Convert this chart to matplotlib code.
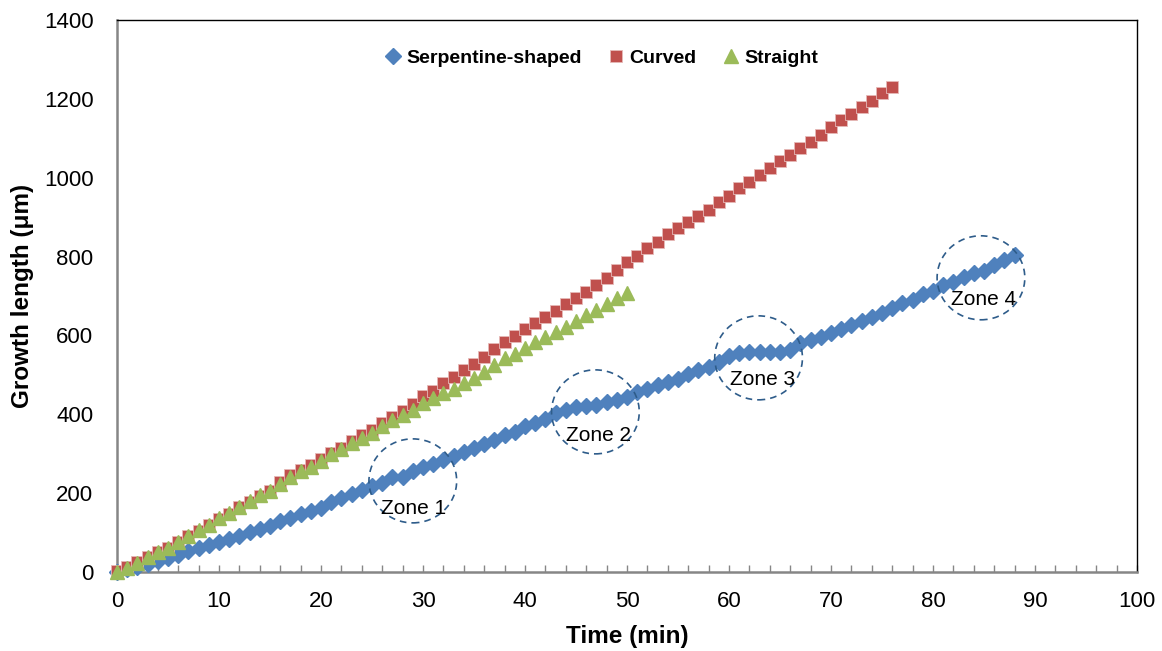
import matplotlib
matplotlib.use('Agg')
import matplotlib.pyplot as plt
from matplotlib.patches import Ellipse

plt.rcParams['font.family'] = ['Liberation Sans', 'DejaVu Sans']

# growth length (um) read every minute
serpentine = [0, 8, 13, 20, 29, 35, 43, 53, 60, 68,
              77, 84, 90, 101, 109, 117, 128, 136, 146, 155,
              162, 177, 187, 198, 207, 218, 226, 240, 242, 257,
              265, 274, 284, 294, 305, 314, 325, 335, 347, 356,
              369, 379, 388, 402, 411, 418, 420, 424, 431, 437,
              444, 456, 465, 473, 482, 489, 501, 512, 521, 532,
              547, 556, 558, 557, 557, 557, 563, 580, 588, 597,
              607, 617, 626, 637, 646, 658, 669, 683, 690, 704,
              713, 728, 736, 749, 759, 762, 779, 790, 804]
curved = [3, 12, 25, 38, 50, 61, 75, 90, 105, 120,
          135, 148, 164, 178, 193, 206, 228, 246, 259, 271,
          286, 301, 314, 331, 347, 360, 377, 394, 409, 426,
          445, 460, 479, 494, 512, 528, 546, 565, 582, 599,
          615, 631, 646, 663, 680, 694, 711, 728, 745, 766,
          785, 801, 821, 838, 857, 872, 887, 903, 918, 937,
          954, 973, 990, 1007, 1024, 1042, 1058, 1075, 1091, 1108,
          1128, 1146, 1161, 1178, 1195, 1214, 1231]
straight = [0, 11, 24, 37, 50, 62, 76, 91, 106, 120,
            136, 149, 165, 179, 194, 206, 224, 240, 257, 267,
            282, 299, 311, 326, 339, 353, 369, 385, 398, 411,
            428, 440, 453, 463, 479, 491, 508, 525, 542, 553,
            567, 582, 597, 609, 622, 637, 652, 664, 680, 694,
            708]

zone_names = ['Zone 1', 'Zone 2', 'Zone 3', 'Zone 4']
zone_t = [29.0, 46.9, 62.9, 84.7]
zone_len = [231, 406, 543, 746]
zone_label_t = [29.1, 47.2, 63.3, 85.0]
zone_label_len = [162, 345, 487, 692]


def draw_chart():
    fig = plt.figure(figsize=(11.62, 6.51), dpi=100)
    ax = fig.add_axes([0.1007, 0.1214, 0.8778, 0.848])

    ax.plot(range(len(serpentine)), serpentine, ls='none', marker='D', ms=8,
            color='#4F81BD', mec='#4F81BD', label='Serpentine-shaped', clip_on=False, zorder=3)
    ax.plot(range(len(curved)), curved, ls='none', marker='s', ms=8,
            color='#C0504D', mec='#E6B9B8', mew=0.6, label='Curved', clip_on=False, zorder=3)
    ax.plot(range(len(straight)), straight, ls='none', marker='^', ms=10,
            color='#9BBB59', mec='#9BBB59', label='Straight', clip_on=False, zorder=3)

    # dashed circles around the zones
    for name, t, v, lt, lv in zip(zone_names, zone_t, zone_len, zone_label_t, zone_label_len):
        ax.add_patch(Ellipse((t, v), width=8.6, height=213, fill=False,
                             ls=(0, (4, 3)), lw=1.2, ec='#2E5C8A', zorder=4))
        ax.text(lt, lv, name, ha='center', va='center', fontsize=15, zorder=5)

    ax.set_xlim(0, 100)
    ax.set_ylim(0, 1400)
    ax.set_xticks(range(0, 101, 10))
    ax.set_xticks(range(0, 101, 2), minor=True)
    ax.set_yticks(range(0, 1401, 200))
    ax.tick_params(axis='x', which='both', direction='in', length=5, width=1, color='#868686')
    ax.tick_params(axis='x', which='major', pad=14, labelsize=16)
    ax.tick_params(axis='y', length=0, pad=17, labelsize=16)

    for side in ['left', 'bottom']:
        ax.spines[side].set_color('#868686')
        ax.spines[side].set_linewidth(1.8)
    for side in ['top', 'right']:
        ax.spines[side].set_color('black')
        ax.spines[side].set_linewidth(1.0)

    ax.set_xlabel('Time (min)', fontsize=17.5, fontweight='bold')
    ax.set_ylabel('Growth length (μm)', fontsize=17.5, fontweight='bold')
    ax.xaxis.set_label_coords(0.5, -0.116)
    ax.yaxis.set_label_coords(-0.093, 0.5)
    ax.xaxis.label.set_va('center')
    ax.yaxis.label.set_va('center')

    ax.legend(loc='center', bbox_to_anchor=(0.475, 0.931), ncol=3, frameon=False,
              prop={'weight': 'bold', 'size': 14}, handlelength=0.8, handletextpad=0.3,
              columnspacing=1.35, numpoints=1)

    plt.savefig('out.png', dpi=100)


draw_chart()
